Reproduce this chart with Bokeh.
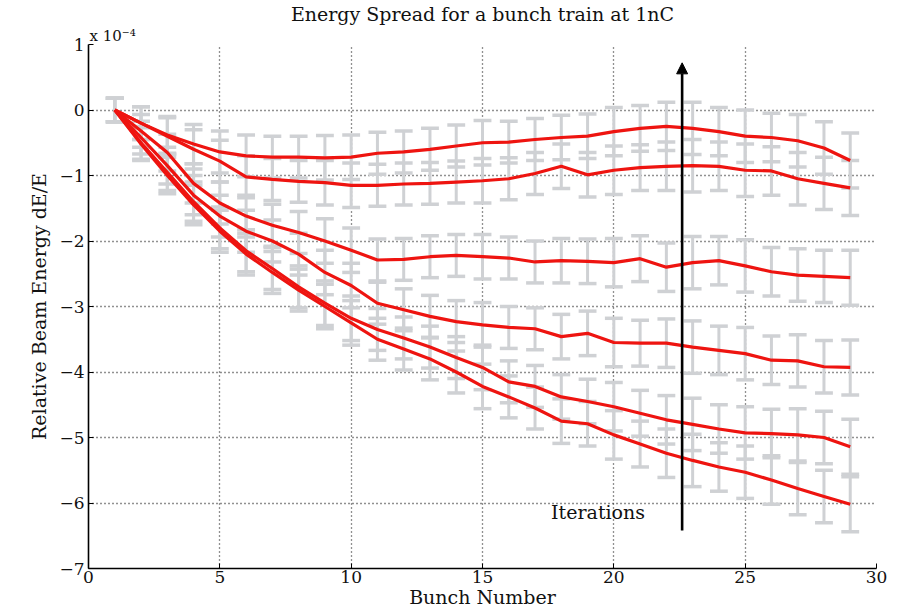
from bokeh.plotting import figure
from bokeh.models import Label, Arrow, NormalHead, Range1d, FixedTicker, Title
from bokeh.embed import file_html
from bokeh.resources import INLINE

# ---------------- data ----------------
bunch = list(range(1, 30))

# iteration 1 (lowest) ... iteration 6 (highest), relative energy in units of 1e-4
iter_1 = [0.0, -0.52, -1.00, -1.45, -1.85, -2.20, -2.48, -2.75, -3.00, -3.25,
          -3.50, -3.65, -3.80, -4.00, -4.22, -4.38, -4.55, -4.75, -4.79, -4.96,
          -5.10, -5.24, -5.35, -5.45, -5.53, -5.65, -5.78, -5.90, -6.02]
iter_2 = [0.0, -0.50, -0.95, -1.40, -1.80, -2.15, -2.42, -2.70, -2.95, -3.18,
          -3.35, -3.48, -3.62, -3.78, -3.93, -4.15, -4.22, -4.38, -4.45, -4.53,
          -4.63, -4.73, -4.80, -4.87, -4.93, -4.94, -4.96, -5.00, -5.14]
iter_3 = [0.0, -0.42, -0.85, -1.30, -1.62, -1.85, -2.00, -2.20, -2.48, -2.68,
          -2.95, -3.05, -3.15, -3.23, -3.28, -3.32, -3.34, -3.46, -3.41, -3.55,
          -3.56, -3.56, -3.62, -3.67, -3.72, -3.82, -3.83, -3.92, -3.93]
iter_4 = [0.0, -0.32, -0.65, -1.12, -1.42, -1.62, -1.76, -1.87, -2.00, -2.14,
          -2.29, -2.28, -2.24, -2.22, -2.24, -2.26, -2.32, -2.30, -2.31, -2.33,
          -2.27, -2.40, -2.33, -2.30, -2.38, -2.47, -2.52, -2.54, -2.56]
iter_5 = [0.0, -0.20, -0.40, -0.60, -0.78, -1.02, -1.06, -1.09, -1.11, -1.15,
          -1.15, -1.13, -1.12, -1.10, -1.08, -1.05, -0.97, -0.86, -0.99, -0.92,
          -0.88, -0.86, -0.85, -0.86, -0.92, -0.93, -1.05, -1.12, -1.19]
iter_6 = [0.0, -0.20, -0.38, -0.52, -0.64, -0.70, -0.72, -0.72, -0.73, -0.72,
          -0.66, -0.64, -0.60, -0.55, -0.50, -0.49, -0.45, -0.42, -0.40, -0.33,
          -0.28, -0.25, -0.28, -0.33, -0.40, -0.42, -0.47, -0.58, -0.77]

# measurement error (half width), per bunch
err = [0.18, 0.25, 0.28, 0.30, 0.32, 0.32, 0.32, 0.32, 0.34, 0.34,
       0.32, 0.32, 0.32, 0.32, 0.34, 0.32, 0.32, 0.34, 0.34, 0.37,
       0.35, 0.37, 0.40, 0.37, 0.40, 0.37, 0.40, 0.40, 0.42]

series = [iter_1, iter_2, iter_3, iter_4, iter_5, iter_6]

x_ticks = [0, 5, 10, 15, 20, 25, 30]
y_ticks = [-7, -6, -5, -4, -3, -2, -1, 0, 1]
y_tick_labels = {-7: "\u22127", -6: "\u22126", -5: "\u22125", -4: "\u22124",
                 -3: "\u22123", -2: "\u22122", -1: "\u22121", 0: "0", 1: "1"}

title_text = "Energy Spread for a bunch train at 1nC"
exponent_text = "x 10\u207b\u2074"
x_label = "Bunch Number"
y_label = "Relative Beam Energy dE/E"
arrow_x, arrow_y0, arrow_y1 = 22.6, -6.42, 0.72
note_text, note_x, note_y = "Iterations", 19.4, -6.14

FONT = "DejaVu Serif"
GRAY = "#cfd1d4"
RED = "#ee1410"

# ---------------- figure ----------------
p = figure(frame_width=788, frame_height=524,
           min_border_left=88, min_border_right=30,
           min_border_top=0, min_border_bottom=48,
           x_range=Range1d(0, 30), y_range=Range1d(-7, 1),
           output_backend="svg", toolbar_location=None)
p.outline_line_color = None
p.background_fill_color = "white"
p.border_fill_color = "white"

p.title = Title(text=title_text, align="center", text_font=FONT,
                text_font_size="19px", text_font_style="normal",
                text_color="#111111", standoff=0, offset=0)
p.add_layout(Title(text=exponent_text, align="left", text_font=FONT,
                   text_font_size="15px", text_font_style="normal",
                   text_color="#111111", standoff=0, offset=1), "above")

for ax in (p.xaxis[0], p.yaxis[0]):
    ax.axis_line_color = "black"
    ax.axis_line_width = 1.6
    ax.major_tick_in = 5
    ax.major_tick_out = 0
    ax.minor_tick_line_color = None
    ax.major_label_text_font = FONT
    ax.major_label_text_font_size = "17px"
    ax.major_label_text_color = "#111111"
    ax.axis_label_text_font = FONT
    ax.axis_label_text_font_style = "normal"
    ax.axis_label_text_font_size = "19px"
    ax.axis_label_text_color = "#111111"

p.xaxis.ticker = FixedTicker(ticks=x_ticks)
p.yaxis.ticker = FixedTicker(ticks=y_ticks)
p.yaxis.major_label_overrides = y_tick_labels
p.xaxis.axis_label = x_label
p.yaxis.axis_label = y_label
p.xaxis.major_label_standoff = 2
p.xaxis.axis_label_standoff = 0
p.yaxis.major_label_standoff = 4
p.yaxis.axis_label_standoff = 6

p.xgrid.ticker = FixedTicker(ticks=x_ticks)
p.ygrid.ticker = FixedTicker(ticks=y_ticks)
for g in (p.xgrid[0], p.ygrid[0]):
    g.grid_line_color = "#222222"
    g.grid_line_width = 1.3
    g.grid_line_dash = "1 3"

# error bars (gray)
cap = 0.34
for s in series:
    lo = [v - e for v, e in zip(s, err)]
    hi = [v + e for v, e in zip(s, err)]
    p.segment(x0=bunch, y0=lo, x1=bunch, y1=hi, line_color=GRAY, line_width=3)
    xl = [b - cap for b in bunch]
    xr = [b + cap for b in bunch]
    p.segment(x0=xl, y0=lo, x1=xr, y1=lo, line_color=GRAY, line_width=3.5)
    p.segment(x0=xl, y0=hi, x1=xr, y1=hi, line_color=GRAY, line_width=3.5)

# model lines (red)
for s in series:
    p.line(bunch, s, line_color=RED, line_width=3.2)

# iterations arrow
p.add_layout(Arrow(end=NormalHead(size=11, fill_color="black", line_color="black"),
                   x_start=arrow_x, y_start=arrow_y0, x_end=arrow_x, y_end=arrow_y1,
                   line_color="black", line_width=2.6))
p.add_layout(Label(x=note_x, y=note_y, text=note_text, text_font=FONT,
                   text_font_size="19px", text_align="center",
                   text_baseline="middle", text_color="#111111"))

open("out.html", "w").write(file_html(p, INLINE))
